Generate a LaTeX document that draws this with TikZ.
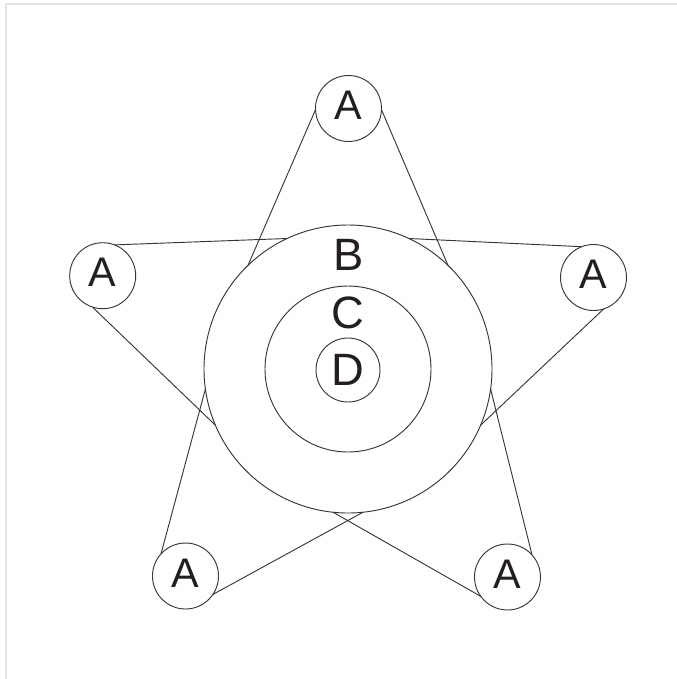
\documentclass[tikz,border=0pt]{standalone}
\usepackage{fontspec}
\setmainfont{Liberation Sans}
\definecolor{ink}{HTML}{231F20}
\begin{document}
\begin{tikzpicture}[x=0.75pt,y=-0.75pt,
  ring/.style={circle, draw=ink!90, line width=0.7pt, inner sep=0pt, outer sep=0pt},
  apoint/.style={ring, minimum size=49.5pt, text=ink, font=\fontsize{31}{31}\selectfont, text depth=4.5pt},
  lbl/.style={text=ink, font=\fontsize{34}{34}\selectfont, inner sep=0pt},
  link/.style={draw=ink!90, line width=0.7pt},
  frame/.style={draw=black!10, line width=1.2pt}]
\useasboundingbox (0,0) rectangle (677,679);
\fill[white] (0,0) rectangle (677,679);
\coordinate (f1) at (6,679);
\coordinate (f2) at (6,4);
\coordinate (f3) at (677,4);
\draw[frame] (f1) -- (f2) -- (f3);

% central circles
\node[ring, minimum size=216pt] (B) at (348,369) {};
\node[ring, minimum size=124.5pt] (C) at (348,369) {};
\node[ring, minimum size=48pt, lbl] (D) at (348,370) {D};
\node[lbl] (lb) at (349,255) {B};
\node[lbl] (lc) at (348,313) {C};

% outer points
\node[apoint] (At) at (348.5,108.5) {A};
\node[apoint] (Al) at (102.7,275.7) {A};
\node[apoint] (Ar) at (593.5,277.5) {A};
\node[apoint] (Abl) at (185.5,576) {A};
\node[apoint] (Abr) at (507.5,577) {A};

% star lines
\draw[link] (At.182) -- (B.134);
\draw[link] (At.358) -- (B.46);
\draw[link] (Al.69) -- (B.115);
\draw[link] (Ar.111) -- (B.65);
\draw[link] (Al.252) -- (B.203);
\draw[link] (Ar.288) -- (B.337);
\draw[link] (Abl.138) -- (B.188);
\draw[link] (Abr.42) -- (B.352);
\draw[link] (Abl.326) -- (B.276);
\draw[link] (Abr.216) -- (B.264);
\end{tikzpicture}
\end{document}
